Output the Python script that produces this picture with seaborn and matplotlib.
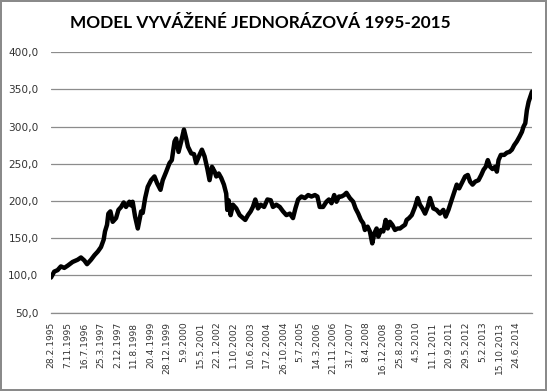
import matplotlib
matplotlib.use("Agg")
import matplotlib.pyplot as plt
import seaborn as sns
import pandas as pd

# ---- data ----
dates = [
    "1995-02-28", "1995-04-18", "1995-06-08", "1995-07-28", "1995-09-18", "1995-11-08",
    "1996-01-22", "1996-04-08", "1996-05-28", "1996-07-18", "1996-08-28", "1996-10-28",
    "1996-12-18", "1997-02-08", "1997-03-28", "1997-05-08", "1997-05-28", "1997-06-28",
    "1997-07-18", "1997-08-18", "1997-09-22", "1997-11-12", "1997-12-18", "1998-01-28",
    "1998-03-08", "1998-04-12", "1998-06-02", "1998-06-28", "1998-07-22", "1998-08-28",
    "1998-10-08", "1998-11-28", "1998-12-22", "1999-01-28", "1999-03-08", "1999-04-28",
    "1999-06-18", "1999-07-28", "1999-09-18", "1999-10-22", "1999-12-12", "2000-02-02",
    "2000-03-08", "2000-04-18", "2000-05-12", "2000-06-18", "2000-07-28", "2000-09-08",
    "2000-10-12", "2000-11-08", "2000-12-28", "2001-02-08", "2001-03-12", "2001-05-02",
    "2001-06-08", "2001-07-18", "2001-08-28", "2001-10-02", "2001-11-08", "2001-12-18",
    "2002-01-12", "2002-02-18", "2002-03-28", "2002-05-08", "2002-06-12", "2002-06-28",
    "2002-07-18", "2002-08-18", "2002-09-22", "2002-11-12", "2003-01-02", "2003-02-22",
    "2003-03-28", "2003-05-08", "2003-06-18", "2003-07-22", "2003-08-28", "2003-10-08",
    "2003-11-18", "2004-01-08", "2004-02-28", "2004-04-18", "2004-05-22", "2004-07-12",
    "2004-09-02", "2004-10-22", "2004-12-12", "2005-02-02", "2005-03-22", "2005-04-28",
    "2005-06-08", "2005-07-28", "2005-09-18", "2005-11-08", "2005-12-28", "2006-02-18",
    "2006-03-28", "2006-05-02", "2006-06-22", "2006-08-12", "2006-09-18", "2006-10-28",
    "2006-12-08", "2007-01-12", "2007-02-18", "2007-03-28", "2007-05-08", "2007-06-12",
    "2007-08-02", "2007-09-22", "2007-10-28", "2007-12-08", "2008-01-18", "2008-02-22",
    "2008-03-18", "2008-04-28", "2008-06-02", "2008-07-08", "2008-08-08", "2008-09-12",
    "2008-10-08", "2008-11-18", "2008-12-22", "2009-01-28", "2009-02-28", "2009-04-02",
    "2009-05-08", "2009-06-18", "2009-07-28", "2009-09-02", "2009-10-08", "2009-11-18",
    "2009-12-12", "2010-01-18", "2010-02-28", "2010-04-18", "2010-05-28", "2010-07-02",
    "2010-08-08", "2010-09-18", "2010-10-28", "2010-12-02", "2011-01-22", "2011-03-12",
    "2011-05-02", "2011-06-22", "2011-07-28", "2011-09-08", "2011-10-18", "2011-12-08",
    "2012-01-12", "2012-02-18", "2012-03-28", "2012-05-18", "2012-06-28", "2012-08-02",
    "2012-09-08", "2012-10-18", "2012-12-08", "2013-01-18", "2013-02-22", "2013-03-28",
    "2013-04-28", "2013-06-02", "2013-07-08", "2013-08-18", "2013-09-12", "2013-10-08",
    "2013-11-12", "2014-01-02", "2014-02-12", "2014-03-22", "2014-04-28", "2014-06-02",
    "2014-07-12", "2014-08-22", "2014-09-28", "2014-10-22", "2014-11-18", "2014-12-12",
    "2015-01-08", "2015-02-02", "2015-02-28",
]
values = [
    97, 105, 107, 112, 110, 113,
    118, 121, 124, 120, 115, 121,
    127, 132, 138, 148, 159, 168,
    183, 186, 172, 177, 188, 192,
    198, 192, 199, 194, 199, 179,
    163, 186, 184, 204, 219, 228,
    233, 224, 215, 228, 239, 251,
    255, 280, 284, 266, 280, 296,
    284, 273, 264, 263, 251, 262,
    269, 260, 244, 228, 246, 239.5,
    233, 237, 231, 222, 210, 188,
    201, 181, 195, 190, 181, 177,
    174.5, 181, 186, 192, 202, 190,
    195, 192, 202, 201, 192, 195,
    192, 186, 181, 183, 177, 190,
    202, 206, 204, 208, 206, 208,
    206, 192, 192, 199, 202, 197,
    208, 199, 206, 206, 208, 211,
    204, 199, 190, 183, 174.5, 170,
    161, 165.5, 159, 143, 156.5, 163,
    152, 161, 159, 174.5, 163, 172,
    168, 161, 163, 163, 165.5, 168,
    174.5, 177, 181, 192, 204, 195,
    190, 183, 192, 204, 190, 188,
    183, 188, 179, 188, 199, 212.5,
    222, 217, 224, 233, 235, 226,
    222, 226, 228, 235, 242, 246,
    255, 246, 243, 246, 239.5, 255,
    262, 262, 265, 266, 269, 275,
    280, 286.5, 293, 300, 304.5, 322,
    333.5, 340, 347,
]
tick_labels = [
    "28.2.1995", "7.11.1995", "16.7.1996", "25.3.1997", "2.12.1997", "11.8.1998",
    "20.4.1999", "28.12.1999", "5.9.2000", "15.5.2001", "22.1.2002", "1.10.2002",
    "10.6.2003", "17.2.2004", "26.10.2004", "5.7.2005", "14.3.2006", "21.11.2006",
    "31.7.2007", "8.4.2008", "16.12.2008", "25.8.2009", "4.5.2010", "11.1.2011",
    "20.9.2011", "29.5.2012", "5.2.2013", "15.10.2013", "24.6.2014",
]
y_ticks = [50, 100, 150, 200, 250, 300, 350, 400]
title = "MODEL VYVÁŽENÉ JEDNORÁZOVÁ 1995-2015"

df = pd.DataFrame({"date": pd.to_datetime(dates), "value": values})
tick_dates = pd.to_datetime(tick_labels, format="%d.%m.%Y")

# ---- figure ----
sns.set_style("white")
plt.rcParams["font.family"] = ["DejaVu Sans"]

fig = plt.figure(figsize=(5.47, 3.91), dpi=100)
fig.patch.set_edgecolor("#8a8a8a")
fig.patch.set_linewidth(1.5)
ax = fig.add_axes([51 / 547, 1 - 312.5 / 391, (532 - 51) / 547, (312.5 - 52.3) / 391])

sns.lineplot(data=df, x="date", y="value", ax=ax, color="black", linewidth=3.2, legend=False)

ax.set_xlim(df["date"].iloc[0], df["date"].iloc[-1])
ax.set_ylim(50, 400)
ax.set_yticks(y_ticks)
ax.set_yticklabels([f"{v:.1f}".replace(".", ",") for v in y_ticks], fontsize=7.6,
                   color="#333333", family="DejaVu Sans")
ax.set_xticks(tick_dates)
ax.set_xticklabels(tick_labels, rotation=90, fontsize=6.6, color="#333333",
                   va="top", ha="center", family="DejaVu Sans")
ax.tick_params(axis="both", length=0)
ax.tick_params(axis="x", pad=6.5)
ax.tick_params(axis="y", pad=9)
ax.grid(axis="y", color="#8c8c8c", linewidth=0.9)
ax.grid(axis="x", visible=False)
for s in ["top", "right", "left"]:
    ax.spines[s].set_visible(False)
ax.spines["bottom"].set_color("#8c8c8c")
ax.spines["bottom"].set_linewidth(0.9)
ax.set_xlabel("")
ax.set_ylabel("")

fig.text(260 / 547, 1 - 23 / 391, title, ha="center", va="center",
         fontsize=12.4, fontweight="bold", family="Lato", color="black")

fig.savefig("out.png", dpi=100, edgecolor=fig.get_edgecolor())
